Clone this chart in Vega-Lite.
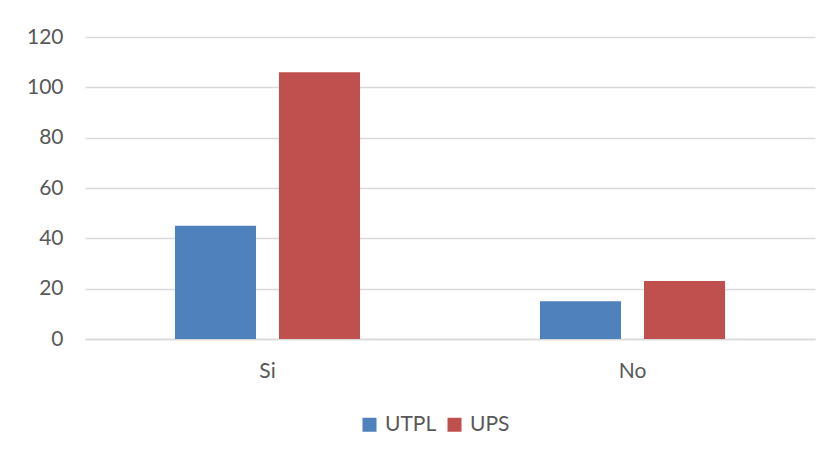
{
  "$schema": "https://vega.github.io/schema/vega-lite/v6.json",
  "autosize": {"type": "none"},
  "padding": {"left": 85, "top": 37, "right": 20, "bottom": 120},
  "width": 730,
  "height": 302,
  "background": "white",
  "config": {
    "view": {"stroke": null},
    "font": "Lato",
    "axis": {"labelFont": "Lato", "labelColor": "#595959", "labelFontSize": 21},
    "legend": {"labelFont": "Lato", "labelColor": "#595959", "labelFontSize": 21}
  },
  "data": {
    "values": [
      {"respuesta": "Si", "universidad": "UTPL", "valor": 45},
      {"respuesta": "Si", "universidad": "UPS", "valor": 106},
      {"respuesta": "No", "universidad": "UTPL", "valor": 15},
      {"respuesta": "No", "universidad": "UPS", "valor": 23}
    ]
  },
  "mark": {"type": "bar"},
  "encoding": {
    "x": {
      "field": "respuesta",
      "type": "nominal",
      "sort": ["Si", "No"],
      "scale": {"paddingInner": 0.493, "paddingOuter": 0.2465},
      "axis": {
        "title": null,
        "labelAngle": 0,
        "ticks": false,
        "domain": true,
        "domainColor": "#D9D9D9",
        "domainWidth": 1.5,
        "labelPadding": 21
      }
    },
    "xOffset": {
      "field": "universidad",
      "type": "nominal",
      "sort": ["UTPL", "UPS"],
      "scale": {"paddingInner": 0.221, "paddingOuter": 0}
    },
    "y": {
      "field": "valor",
      "type": "quantitative",
      "scale": {"domain": [0, 120]},
      "axis": {
        "title": null,
        "values": [0, 20, 40, 60, 80, 100, 120],
        "domain": false,
        "ticks": false,
        "gridColor": "#D9D9D9",
        "gridWidth": 1.5,
        "labelPadding": 22
      }
    },
    "color": {
      "field": "universidad",
      "type": "nominal",
      "sort": ["UTPL", "UPS"],
      "scale": {"domain": ["UTPL", "UPS"], "range": ["#4F81BD", "#C0504D"]},
      "legend": {
        "title": null,
        "orient": "none",
        "legendX": 274,
        "legendY": 377,
        "direction": "horizontal",
        "symbolType": "square",
        "symbolSize": 196,
        "symbolStrokeWidth": 0,
        "symbolOpacity": 1,
        "columnPadding": 7,
        "labelOffset": 5
      }
    }
  }
}
